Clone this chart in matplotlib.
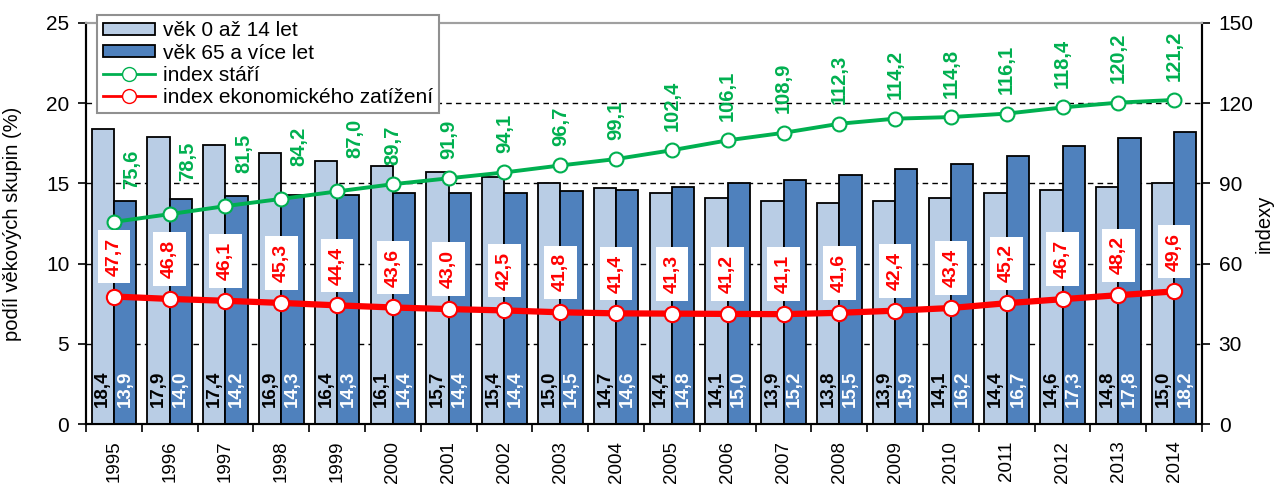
import matplotlib
matplotlib.use("Agg")
import matplotlib.pyplot as plt
import numpy as np
from matplotlib.lines import Line2D
from matplotlib.patches import Patch

plt.rcParams['font.family'] = ['Liberation Sans', 'DejaVu Sans']

years = [str(y) for y in range(1995, 2015)]
vek_0_14 = [18.4, 17.9, 17.4, 16.9, 16.4, 16.1, 15.7, 15.4, 15.0, 14.7,
            14.4, 14.1, 13.9, 13.8, 13.9, 14.1, 14.4, 14.6, 14.8, 15.0]
vek_65 = [13.9, 14.0, 14.2, 14.3, 14.3, 14.4, 14.4, 14.4, 14.5, 14.6,
          14.8, 15.0, 15.2, 15.5, 15.9, 16.2, 16.7, 17.3, 17.8, 18.2]
index_stari = [75.6, 78.5, 81.5, 84.2, 87.0, 89.7, 91.9, 94.1, 96.7, 99.1,
               102.4, 106.1, 108.9, 112.3, 114.2, 114.8, 116.1, 118.4, 120.2, 121.2]
index_ekon = [47.7, 46.8, 46.1, 45.3, 44.4, 43.6, 43.0, 42.5, 41.8, 41.4,
              41.3, 41.2, 41.1, 41.6, 42.4, 43.4, 45.2, 46.7, 48.2, 49.6]

def fmt(v):
    return f"{v:.1f}".replace('.', ',')

light = '#B9CDE5'
dark = '#4F81BD'
green = '#00B050'
red = '#FF0000'

fig = plt.figure(figsize=(12.77, 4.88), dpi=100)
ax1 = fig.add_axes([0.0673, 0.131, 0.8740, 0.822])
ax2 = ax1.twinx()

x = np.arange(len(years))
w = 0.4
ax1.bar(x - w/2, vek_0_14, width=w, color=light, edgecolor='black', linewidth=1.3, zorder=3)
ax1.bar(x + w/2, vek_65, width=w, color=dark, edgecolor='black', linewidth=1.3, zorder=3)

for xi, v in zip(x, vek_0_14):
    ax1.annotate(fmt(v), (xi - w/2, 0), xytext=(0, 12), textcoords='offset points',
                 rotation=90, ha='center', va='bottom', fontsize=13.5, fontweight='bold',
                 color='black', zorder=4)
for xi, v in zip(x, vek_65):
    ax1.annotate(fmt(v), (xi + w/2, 0), xytext=(0, 12), textcoords='offset points',
                 rotation=90, ha='center', va='bottom', fontsize=13.5, fontweight='bold',
                 color='white', zorder=4)

ax1.set_ylim(0, 25)
ax1.set_xlim(-0.5, len(years) - 0.5)
ax1.set_yticks([0, 5, 10, 15, 20, 25])
for gy in [5, 10, 15, 20]:
    ax1.axhline(gy, color='black', linestyle=(0, (4, 3)), linewidth=1.0, zorder=1)

ax1.set_xticks(x)
ax1.set_xticklabels(years, rotation=90, fontsize=13.5, va='top')
ax1.set_xticks(np.arange(-0.5, len(years), 1.0), minor=True)
ax1.tick_params(axis='x', which='major', length=0, pad=12)
ax1.tick_params(axis='x', which='minor', length=6, width=1.2, direction='out')
ax1.tick_params(axis='y', labelsize=15, length=6, width=1.2, direction='out', pad=6)
ax1.set_ylabel('podíl věkových skupin (%)', fontsize=14.5)
ax1.yaxis.set_label_coords(-0.057, 0.5)

ax2.plot(x, index_stari, color=green, linewidth=2.8, marker='o', markersize=10,
         markerfacecolor='white', markeredgecolor=green, markeredgewidth=1.5, zorder=5)
ax2.plot(x, index_ekon, color=red, linewidth=4.5, marker='o', markersize=11,
         markerfacecolor='white', markeredgecolor=red, markeredgewidth=1.5, zorder=5)
ax2.set_ylim(0, 150)
ax2.set_yticks([0, 30, 60, 90, 120, 150])
ax2.tick_params(axis='y', labelsize=15, length=6, width=1.2, direction='out', pad=6)
ax2.set_ylabel('indexy', fontsize=14.5)
ax2.yaxis.set_label_coords(1.047, 0.5)

# green labels: move aside (right and higher) where the light bar would collide
scale = 150 / 25
for xi, v, b in zip(x, index_stari, vek_0_14):
    if b * scale > v + 10:
        off = (13, 24)
    else:
        off = (0, 14)
    ax2.annotate(fmt(v), (xi, v), xytext=off, textcoords='offset points',
                 rotation=90, ha='center', va='bottom', fontsize=14.5, fontweight='bold',
                 color=green, zorder=6)
for xi, v in zip(x, index_ekon):
    ax2.annotate(fmt(v), (xi, v), xytext=(0, 15), textcoords='offset points',
                 rotation=90, ha='center', va='bottom', fontsize=14, fontweight='bold',
                 color=red, zorder=6,
                 bbox=dict(boxstyle='square,pad=0.4', facecolor='white', edgecolor='none'))

for ax in (ax1, ax2):
    ax.spines['top'].set_color('#A0A0A0')
    ax.spines['top'].set_linewidth(1.5)
    ax.spines['left'].set_linewidth(1.5)
    ax.spines['right'].set_linewidth(1.5)
    ax.spines['bottom'].set_linewidth(1.5)

handles = [
    Patch(facecolor=light, edgecolor='black', linewidth=1.3),
    Patch(facecolor=dark, edgecolor='black', linewidth=1.3),
    Line2D([], [], color=green, linewidth=2, marker='o', markersize=10,
           markerfacecolor='white', markeredgecolor=green),
    Line2D([], [], color=red, linewidth=2, marker='o', markersize=10,
           markerfacecolor='white', markeredgecolor=red),
]
labels = ['věk 0 až 14 let', 'věk 65 a více let', 'index stáří', 'index ekonomického zatížení']
leg = fig.legend(handles, labels, loc='upper left', bbox_to_anchor=(0.076, 0.969),
                 fontsize=15, frameon=True, fancybox=False, edgecolor='#909090',
                 framealpha=1, borderpad=0.3, labelspacing=0.15, handlelength=2.5,
                 handleheight=0.55, handletextpad=0.35, borderaxespad=0)
leg.get_frame().set_linewidth(1.5)
leg.set_zorder(10)

fig.savefig('out.png', dpi=100)
